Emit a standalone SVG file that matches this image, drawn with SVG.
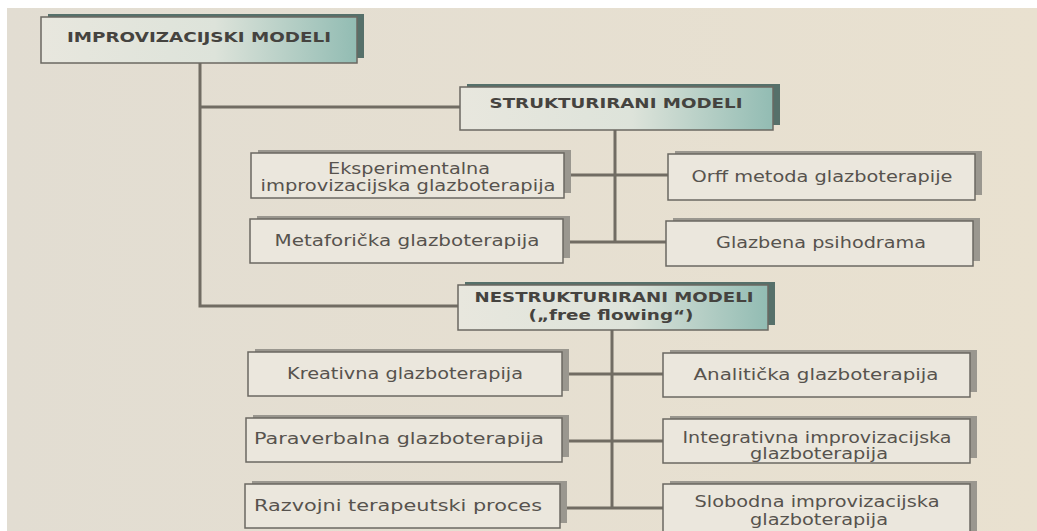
<svg xmlns="http://www.w3.org/2000/svg" width="1037" height="531" viewBox="0 0 1037 531">
<defs>
<linearGradient id="bgg" x1="0" y1="0" x2="1" y2="0">
<stop offset="0" stop-color="#e2ddd2"/>
<stop offset="1" stop-color="#e9e1d0"/>
</linearGradient>
<linearGradient id="hg" x1="0" y1="0" x2="1" y2="0">
<stop offset="0" stop-color="#e8e7de"/>
<stop offset="0.55" stop-color="#dde3da"/>
<stop offset="1" stop-color="#92bcb3"/>
</linearGradient>
</defs>
<style>
.box{fill:#ebe7dd;stroke:#6b6862;stroke-width:1.5}
.sh{fill:#9a978f}
.hbox{fill:url(#hg);stroke:#6b6862;stroke-width:1.5}
.hsh{fill:#56706a}
.conn{stroke:#716c63;stroke-width:3;fill:none}
.t{font-family:"DejaVu Sans","Liberation Sans",sans-serif;font-size:15px;fill:#57534e;text-anchor:middle}
.h{font-family:"DejaVu Sans","Liberation Sans",sans-serif;font-size:14px;font-weight:bold;fill:#45433f;text-anchor:middle}
</style>
<rect x="0" y="0" width="1037" height="531" fill="#ffffff"/>
<rect x="7" y="8" width="1030" height="523" fill="url(#bgg)"/>

<g id="connectors">
<path class="conn" d="M200,63 V306 H458"/>
<path class="conn" d="M200,107 H460"/>
<path class="conn" d="M615,130 V242"/>
<path class="conn" d="M564,175 H668"/>
<path class="conn" d="M563,242 H666"/>
<path class="conn" d="M612,330 V508"/>
<path class="conn" d="M562,374 H663"/>
<path class="conn" d="M562,441 H663"/>
<path class="conn" d="M560,508 H663"/>
</g>

<g id="n-improvizacijski">
<rect class="hsh" x="48" y="14" width="316" height="44"/>
<rect class="hbox" x="41" y="17" width="316" height="46"/>
<text class="h" x="199" y="42" textLength="264" lengthAdjust="spacingAndGlyphs">IMPROVIZACIJSKI MODELI</text>
</g>

<g id="n-strukturirani">
<rect class="hsh" x="467" y="84" width="313" height="41"/>
<rect class="hbox" x="460" y="87" width="313" height="43"/>
<text class="h" x="616" y="108" textLength="253" lengthAdjust="spacingAndGlyphs">STRUKTURIRANI MODELI</text>
</g>

<g id="n-eksperimentalna">
<rect class="sh" x="258" y="150" width="313" height="43"/>
<rect class="box" x="251" y="153" width="313" height="45"/>
<text class="t" x="409" y="174" textLength="162" lengthAdjust="spacingAndGlyphs">Eksperimentalna</text>
<text class="t" x="408" y="191" textLength="295" lengthAdjust="spacingAndGlyphs">improvizacijska glazboterapija</text>
</g>

<g id="n-orff">
<rect class="sh" x="675" y="151" width="307" height="44"/>
<rect class="box" x="668" y="154" width="307" height="46"/>
<text class="t" x="822" y="182" textLength="261" lengthAdjust="spacingAndGlyphs">Orff metoda glazboterapije</text>
</g>

<g id="n-metaforicka">
<rect class="sh" x="257" y="216" width="313" height="42"/>
<rect class="box" x="250" y="219" width="313" height="44"/>
<text class="t" x="407" y="246" textLength="265" lengthAdjust="spacingAndGlyphs">Metaforička glazboterapija</text>
</g>

<g id="n-glazbena">
<rect class="sh" x="673" y="218" width="307" height="43"/>
<rect class="box" x="666" y="221" width="307" height="45"/>
<text class="t" x="821" y="248" textLength="210" lengthAdjust="spacingAndGlyphs">Glazbena psihodrama</text>
</g>

<g id="n-nestrukturirani">
<rect class="hsh" x="465" y="282" width="310" height="43"/>
<rect class="hbox" x="458" y="285" width="310" height="45"/>
<text class="h" x="614" y="302" textLength="279" lengthAdjust="spacingAndGlyphs">NESTRUKTURIRANI MODELI</text>
<text class="h" x="611" y="320" textLength="165" lengthAdjust="spacingAndGlyphs">(„free flowing“)</text>
</g>

<g id="n-kreativna">
<rect class="sh" x="255" y="349" width="314" height="42"/>
<rect class="box" x="248" y="352" width="314" height="44"/>
<text class="t" x="405" y="379" textLength="236" lengthAdjust="spacingAndGlyphs">Kreativna glazboterapija</text>
</g>

<g id="n-analiticka">
<rect class="sh" x="670" y="350" width="307" height="42"/>
<rect class="box" x="663" y="353" width="307" height="44"/>
<text class="t" x="816" y="380" textLength="245" lengthAdjust="spacingAndGlyphs">Analitička glazboterapija</text>
</g>

<g id="n-paraverbalna">
<rect class="sh" x="253" y="415" width="316" height="42"/>
<rect class="box" x="246" y="418" width="316" height="44"/>
<text class="t" x="399" y="444" textLength="290" lengthAdjust="spacingAndGlyphs">Paraverbalna glazboterapija</text>
</g>

<g id="n-integrativna">
<rect class="sh" x="670" y="416" width="307" height="42"/>
<rect class="box" x="663" y="419" width="307" height="44"/>
<text class="t" x="817" y="443" textLength="269" lengthAdjust="spacingAndGlyphs">Integrativna improvizacijska</text>
<text class="t" x="819" y="459" textLength="138" lengthAdjust="spacingAndGlyphs">glazboterapija</text>
</g>

<g id="n-razvojni">
<rect class="sh" x="252" y="481" width="315" height="42"/>
<rect class="box" x="245" y="484" width="315" height="44"/>
<text class="t" x="398" y="511" textLength="288" lengthAdjust="spacingAndGlyphs">Razvojni terapeutski proces</text>
</g>

<g id="n-slobodna">
<rect class="sh" x="670" y="481" width="307" height="52"/>
<rect class="box" x="663" y="484" width="307" height="50"/>
<text class="t" x="817" y="507" textLength="245" lengthAdjust="spacingAndGlyphs">Slobodna improvizacijska</text>
<text class="t" x="819" y="525" textLength="138" lengthAdjust="spacingAndGlyphs">glazboterapija</text>
</g>
</svg>
